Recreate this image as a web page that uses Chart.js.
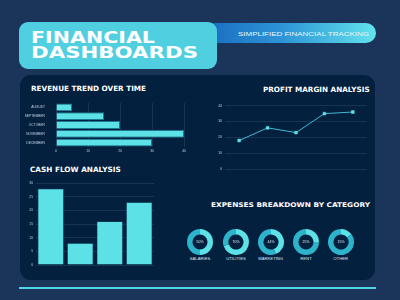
<!DOCTYPE html>
<html><head><meta charset="utf-8">
<script src="https://cdn.jsdelivr.net/npm/chart.js@4.4.1/dist/chart.umd.min.js"></script>
<style>
html,body{margin:0;padding:0;}
body{width:400px;height:300px;background:#1b345a;position:relative;overflow:hidden;font-family:"DejaVu Sans",sans-serif;}
.abs{position:absolute;}
#panel{left:20px;top:75px;width:355px;height:205px;background:#03203f;border-radius:11px;}
#pill{left:205px;top:23px;width:171px;height:20px;border-radius:10px;background:linear-gradient(90deg,#1a6cc0,#2d94d6 45%,#62e3ec);}
#hbox{left:19px;top:22px;width:198px;height:47px;background:#50cfe0;border-radius:9px;}
#rule{left:19px;top:287px;width:357px;height:2px;background:#4fd4e4;}
.fit{white-space:nowrap;transform-origin:0 0;color:#fff;}
.h1{font-weight:bold;font-size:15px;}
.sub{font-family:"Liberation Sans",sans-serif;font-size:6px;color:#eaf6fb;}
.st{font-weight:bold;font-size:7.3px;}
.lab{font-family:"Liberation Sans",sans-serif;font-size:4.2px;color:#dfe8f2;}
canvas{position:absolute;}
</style></head>
<body>
<div id="panel" class="abs"></div>
<div id="pill" class="abs"></div>
<div id="hbox" class="abs"></div>
<div id="rule" class="abs"></div>
<div class="abs fit h1" data-w="124" style="left:30.7px;top:29px;">FINANCIAL</div>
<div class="abs fit h1" data-w="167" style="left:30.7px;top:44.3px;">DASHBOARDS</div>
<div class="abs fit sub" data-w="131" style="left:237.7px;top:30.6px;">SIMPLIFIED FINANCIAL TRACKING</div>
<div class="abs fit st" data-w="115" style="left:31px;top:83.8px;">REVENUE TREND OVER TIME</div>
<div class="abs fit st" data-w="106.6" style="left:262.7px;top:85.2px;">PROFIT MARGIN ANALYSIS</div>
<div class="abs fit st" data-w="90.7" style="left:30px;top:165.2px;">CASH FLOW ANALYSIS</div>
<div class="abs fit st" data-w="159" style="left:211px;top:201.4px;font-size:6.4px;">EXPENSES BREAKDOWN BY CATEGORY</div>

<canvas id="rev" width="170" height="58" style="left:20px;top:98px;"></canvas>
<canvas id="prof" width="175" height="76" style="left:200px;top:100px;"></canvas>
<canvas id="cash" width="140" height="94" style="left:20px;top:178px;"></canvas>
<div id="donuts"></div>

<script>
// ---- data ----
const revCats = ['AUGUST','SEPTEMBER','OCTOBER','NOVEMBER','DECEMBER'];
const revVals = [5,15,20,40,30];
const revTicks = [0,10,20,30,40];

const profitCats = ['Item 1','Item 2','Item 3','Item 4','Item 5'];
const profitVals = [18,26,23,35,36];
const profitTicks = [0,10,20,30,40];

const cashCats = ['OPERATING','INVESTING','FINANCING','INSURANCE'];
const cashVals = [28,8,16,23];
const cashTicks = [0,5,10,15,20,25,30];

const expCats = ['SALARIES','UTILITIES','MARKETING','RENT','OTHER'];
const expVals = [50,70,44,25,15];

// ---- styling ----
const CYAN = '#5ce1e6';
const DARK = '#2db4cb';
const TICK = {family:'Liberation Sans', size:3.3};
const TICKCOL = '#c5d2e2';
const GRID = 'rgba(255,255,255,0.09)';

Chart.defaults.animation = false;
Chart.defaults.responsive = false;
Chart.defaults.devicePixelRatio = 1;
Chart.defaults.plugins.legend.display = false;
Chart.defaults.plugins.tooltip.enabled = false;

function fixW(w){return s=>{s.width=w;};}
function fixH(h){return s=>{s.height=h;};}

new Chart(document.getElementById('rev'), {
  type:'bar',
  data:{labels:revCats, datasets:[{data:revVals, backgroundColor:CYAN, borderColor:'#1c7890', borderWidth:1, barPercentage:0.94, categoryPercentage:0.94}]},
  options:{
    indexAxis:'y',
    layout:{padding:{top:5,right:6,left:0,bottom:0}},
    scales:{
      x:{min:revTicks[0], max:revTicks[revTicks.length-1], afterBuildTicks:s=>{s.ticks=revTicks.map(v=>({value:v}));},
         ticks:{font:TICK,color:TICKCOL,padding:2}, grid:{color:GRID,drawTicks:false}, border:{display:false}, afterFit:fixH(9)},
      y:{ticks:{font:TICK,color:TICKCOL,padding:3}, grid:{display:false}, border:{display:false}, afterFit:fixW(36)}
    }
  }
});

new Chart(document.getElementById('prof'), {
  type:'line',
  data:{labels:profitCats, datasets:[{data:profitVals, borderColor:'#3fb9d2', borderWidth:1, pointStyle:'rect', pointRadius:2, pointBackgroundColor:CYAN, pointBorderColor:CYAN, pointBorderWidth:0.5}]},
  options:{
    layout:{padding:{top:5.7,right:8,left:0,bottom:0}},
    scales:{
      x:{offset:true, ticks:{font:TICK,color:TICKCOL,padding:2}, grid:{display:false}, border:{display:false}, afterFit:fixH(7)},
      y:{min:profitTicks[0], max:profitTicks[profitTicks.length-1], afterBuildTicks:s=>{s.ticks=profitTicks.map(v=>({value:v}));},
         ticks:{font:TICK,color:TICKCOL,padding:3}, grid:{color:GRID,drawTicks:false}, border:{display:false}, afterFit:fixW(25)}
    }
  }
});

new Chart(document.getElementById('cash'), {
  type:'bar',
  data:{labels:cashCats, datasets:[{data:cashVals, backgroundColor:CYAN, borderColor:'#1c7890', borderWidth:0.6, barPercentage:0.9, categoryPercentage:0.98}]},
  options:{
    layout:{padding:{top:5.3,right:6,left:0,bottom:0}},
    scales:{
      x:{ticks:{font:TICK,color:TICKCOL,padding:2}, grid:{display:false}, border:{display:false}, afterFit:fixH(7)},
      y:{min:cashTicks[0], max:cashTicks[cashTicks.length-1], afterBuildTicks:s=>{s.ticks=cashTicks.map(v=>({value:v}));},
         ticks:{font:TICK,color:TICKCOL,padding:3}, grid:{color:GRID,drawTicks:false}, border:{display:false}, afterFit:fixW(16)}
    }
  }
});

const centerText = {
  id:'centerText',
  afterDraw(chart){
    const m = chart.getDatasetMeta(0).data[0];
    if(!m) return;
    const ctx = chart.ctx;
    ctx.save();
    ctx.fillStyle = '#e8f2f8';
    ctx.font = '3.4px "Liberation Sans"';
    ctx.textAlign = 'center';
    ctx.textBaseline = 'middle';
    ctx.fillText(chart.data.datasets[0].data[0] + '%', m.x, m.y);
    ctx.restore();
  }
};

const donutX = [200,236,270.7,306,340.7];
const donutY = 241.7;
const holder = document.getElementById('donuts');
expCats.forEach((name,i)=>{
  const c = document.createElement('canvas');
  c.width = 26; c.height = 26;
  c.style.left = (donutX[i]-13)+'px';
  c.style.top = (donutY-13)+'px';
  holder.appendChild(c);
  new Chart(c, {
    type:'doughnut',
    data:{labels:[name,'rest'], datasets:[{data:[expVals[i], 100-expVals[i]], backgroundColor:[CYAN, DARK], borderWidth:0}]},
    options:{cutout:'58%', rotation:0, layout:{padding:0}},
    plugins:[centerText]
  });
  const l = document.createElement('div');
  l.className = 'abs fit lab';
  l.textContent = name;
  l.style.top = '255.5px';
  l.dataset.cx = donutX[i];
  holder.appendChild(l);
});

function fitAll(){
  document.querySelectorAll('.fit').forEach(el=>{
    el.style.transform='none';
    const w = el.getBoundingClientRect().width;
    if(el.dataset.w){
      el.style.transform='scaleX('+(parseFloat(el.dataset.w)/w)+')';
    } else if(el.dataset.cx){
      el.style.left = (parseFloat(el.dataset.cx)-w/2)+'px';
    }
  });
}
fitAll();
</script>
</body></html>
